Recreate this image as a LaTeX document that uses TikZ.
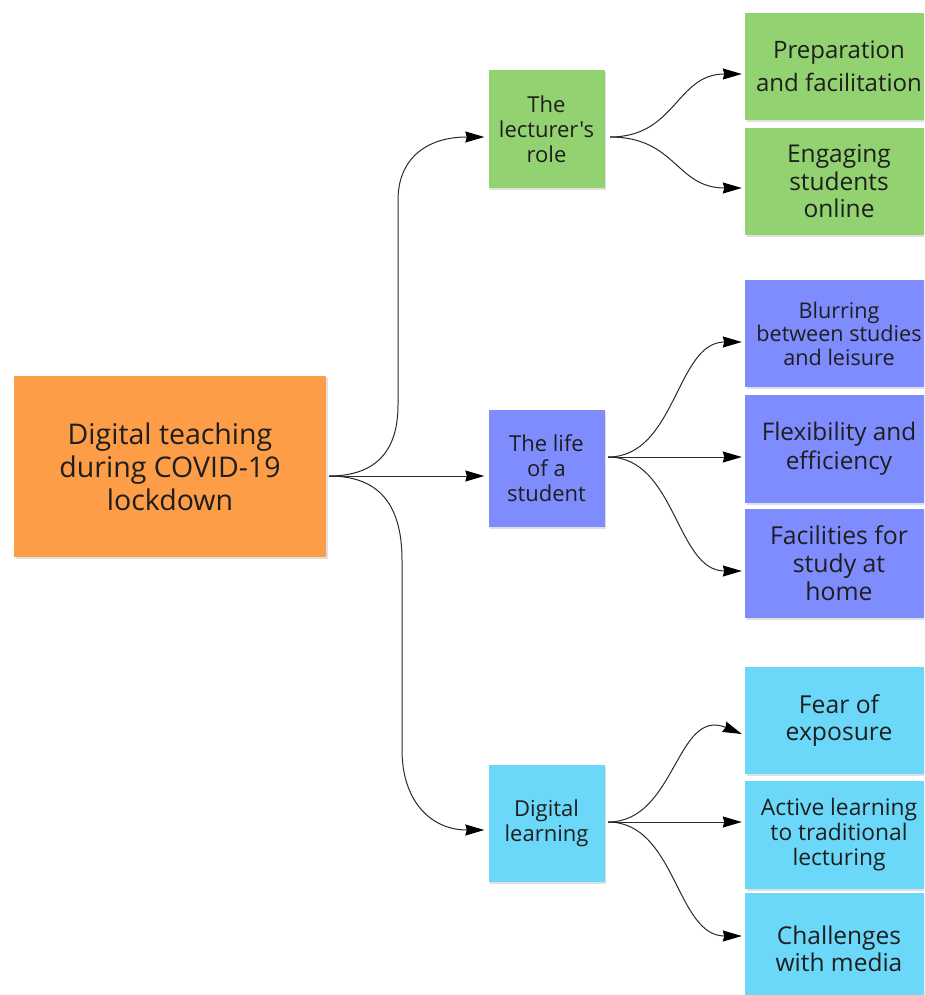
\documentclass[tikz,border=0pt]{standalone}
\usepackage{fontspec}
\setmainfont{Open Sans}[Ligatures=TeXOff]
\usetikzlibrary{arrows.meta,shadows}
\definecolor{corange}{HTML}{FE9D48}
\definecolor{cgreen}{HTML}{93D271}
\definecolor{cblue}{HTML}{7F8CFE}
\definecolor{ccyan}{HTML}{6BD8F9}
\definecolor{ctext}{HTML}{1E1E1E}
\definecolor{cline}{HTML}{2A2A2A}
\tikzset{
  box/.style={rectangle, inner sep=2pt, align=center, text=ctext,
    drop shadow={shadow xshift=1.5pt, shadow yshift=-2pt, opacity=0.25, fill=gray}},
  lvlthree/.style={box, minimum width=188pt},
  lvltwo/.style={box, minimum width=116pt, minimum height=117pt,
    font=\fontsize{22}{25}\selectfont},
  tipstyle/.tip={Stealth[length=19pt,width=11pt,inset=1.5pt,color=black]},
  conn/.style={draw=cline, line width=1pt, -tipstyle},
}
\begin{document}
\begin{tikzpicture}[x=1pt,y=-1pt]
\useasboundingbox (0,0) rectangle (924,995);
\clip (0,0) rectangle (924,995);
\fill[white] (0,0) rectangle (924,995);

% root
\node[box, fill=corange, minimum width=312pt, minimum height=181pt,
  font=\fontsize{28.5}{33}\selectfont] (root) at (170,466.5)
  {Digital teaching\\during COVID-19\\lockdown};

% level 2
\node[lvltwo, fill=cgreen, minimum height=118pt] (lect) at (546.5,129) {The\\lecturer's\\role};
\node[lvltwo, fill=cblue] (stud) at (546.5,468.5) {The life\\of a\\student};
\node[lvltwo, fill=ccyan] (digi) at (546.5,823.5) {Digital\\learning};

% level 3
\node[lvlthree, fill=cgreen, minimum height=107pt, font=\fontsize{24}{33}\selectfont] (prep) at (839,66.5) {Preparation\\and facilitation};
\node[lvlthree, fill=cgreen, minimum height=107pt, font=\fontsize{24.5}{27.5}\selectfont] (eng) at (839,181.5) {Engaging\\students\\online};

\node[lvlthree, fill=cblue, minimum height=107pt, font=\fontsize{21.6}{23.5}\selectfont] (blur) at (839,333.5) {Blurring\\between studies\\and leisure};
\node[lvlthree, fill=cblue, minimum height=108pt, font=\fontsize{24.3}{29}\selectfont] (flex) at (839,449) {Flexibility and\\efficiency};
\node[lvlthree, fill=cblue, minimum height=109pt, font=\fontsize{24.8}{28}\selectfont] (fac) at (839,563.5) {Facilities for\\study at\\home};

\node[lvlthree, fill=ccyan, minimum height=107pt, font=\fontsize{24.7}{27}\selectfont] (fear) at (839,720.5) {Fear of\\exposure};
\node[lvlthree, fill=ccyan, minimum height=108pt, font=\fontsize{22.8}{25}\selectfont] (act) at (839,835) {Active learning\\to traditional\\lecturing};
\node[lvlthree, fill=ccyan, minimum height=112pt, font=\fontsize{24.5}{26.5}\selectfont] (chal) at (839,949) {Challenges\\with media};

% connector start points
\coordinate (r0) at (329,476);
\coordinate (l0) at (610,137);
\coordinate (s0) at (608,457);
\coordinate (d0) at (608,822);

% root connectors
\draw[conn] (r0) .. controls (372,476) and (398,455) .. (398,405)
  -- (398,200) .. controls (398,160) and (425,137) .. ([xshift=-4pt]lect.west |- l0);
\draw[conn] (r0) -- ([xshift=-4pt]stud.west |- r0);
\draw[conn] (r0) .. controls (375,476) and (402,500) .. (402,560)
  -- (402,750) .. controls (402,800) and (430,830) .. ([xshift=-4pt,yshift=-6.5pt]digi.west);

% lecturer connectors
\draw[conn] (l0) .. controls (676,137) and (676,74) .. ([xshift=-3pt,yshift=-7.5pt]prep.west);
\draw[conn] (l0) .. controls (676,137) and (676,188) .. ([xshift=-3pt,yshift=-6.5pt]eng.west);

% student connectors
\draw[conn] (s0) .. controls (676,457) and (676,342) .. ([xshift=-3pt,yshift=-8.5pt]blur.west);
\draw[conn] (s0) -- ([xshift=-3pt]flex.west |- s0);
\draw[conn] (s0) .. controls (676,457) and (676,571) .. ([xshift=-3pt,yshift=-7.5pt]fac.west);

% digital connectors
\draw[conn] (d0) .. controls (676,822) and (676,707) .. ([xshift=-3pt,yshift=-13.5pt]fear.west);
\draw[conn] (d0) -- ([xshift=-3pt]act.west |- d0);
\draw[conn] (d0) .. controls (676,822) and (676,936) .. ([xshift=-3pt,yshift=13pt]chal.west);
\end{tikzpicture}
\end{document}
